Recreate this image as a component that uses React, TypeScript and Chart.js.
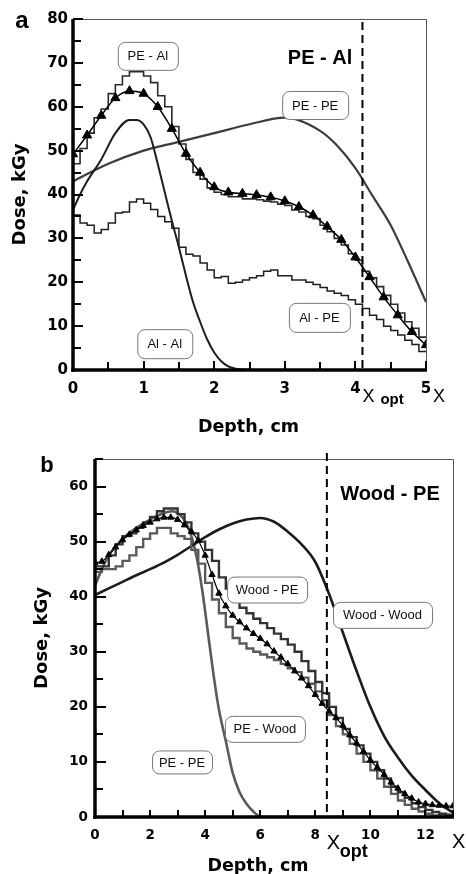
import React, { useEffect, useRef } from 'react';
import { Chart, registerables } from 'chart.js';
Chart.register(...registerables);

// ---------------- Panel a : PE - Al ----------------
const aPePeDepth = [0, 0.5, 1, 1.5, 2, 2.5, 3, 3.5, 3.75, 4, 4.25, 4.5, 4.75, 5];
const aPePeDose = [43, 47, 50, 52, 54, 56, 57.5, 54.5, 51, 46, 39.5, 33, 24.5, 15.5];

const aAlAlDepth = [0, 0.1, 0.2, 0.4, 0.6, 0.8, 0.9, 1.0, 1.1, 1.2, 1.3, 1.4, 1.5, 1.6, 1.7, 1.8, 1.9, 2.0, 2.1, 2.2, 2.3, 2.4, 2.6, 3, 4, 5];
const aAlAlDose = [36.5, 40, 43, 48, 54, 57, 57, 56, 53, 47, 40.5, 34, 28, 21.5, 15.5, 11, 7, 4, 2, 0.8, 0.3, 0.1, 0, 0, 0, 0];

const aCalcDepth = [0, 0.2, 0.4, 0.6, 0.8, 1.0, 1.2, 1.4, 1.6, 1.8, 2.0, 2.2, 2.4, 2.6, 2.8, 3.0, 3.2, 3.4, 3.6, 3.8, 4.0, 4.2, 4.4, 4.6, 4.8, 5.0];
const aCalcDose = [49.2, 53.5, 58, 62, 63.6, 63, 60, 55, 49.3, 45, 41.7, 40.5, 40.2, 39.9, 39.4, 38.5, 37.2, 35.3, 32.7, 29.7, 25.7, 21.2, 16.6, 12.5, 8.7, 5.7];

const aBinWidth = 0.1;
const aHistPeAl = [47, 50.5, 54, 57.5, 59.5, 63, 65, 67, 68, 68, 67, 65.5, 62.5, 60, 55.5, 51.5, 48, 45, 43.5, 41.5,
  40.5, 40, 39.5, 39.5, 39, 39, 38.8, 38.5, 38.3, 37.8, 37.5, 36.5, 36, 35, 34.5, 33, 31.5, 30, 28.5, 26.5,
  25, 22.5, 21, 19, 17, 15, 13, 11, 9.5, 7.5];
const aHistAlPe = [35.3, 33.5, 33, 31.2, 32, 33.5, 35.8, 36, 38.3, 39, 38, 36.6, 35, 33.8, 32.3, 28, 26.4, 26, 24.4, 22.8,
  21, 21.3, 19.8, 20, 20.5, 21, 21.5, 22.5, 22.8, 21.5, 21.5, 20.5, 20.5, 20, 19.5, 18.8, 18, 17.5, 17, 16,
  15, 14, 12.5, 11.5, 10, 9, 8, 6.8, 5.8, 4.2];

// ---------------- Panel b : Wood - PE ----------------
const bWoodWoodDepth = [0, 0.5, 1, 1.5, 2, 2.5, 3, 3.5, 4, 4.5, 5, 5.5, 6, 6.5, 7, 7.5, 8, 8.5, 9, 9.5, 10, 10.5, 11, 11.5, 12, 12.5, 13];
const bWoodWoodDose = [40.3, 41.5, 42.7, 43.9, 45, 46.2, 47.6, 49.2, 50.8, 52.2, 53.3, 54, 54.3, 53.6, 51.8, 49.5, 46.3, 40.5, 33.5, 26.5, 20, 14.7, 10.8, 7.5, 4.9, 2.5, 0.8];

const bPePeDepth = [0, 0.25, 0.5, 1, 1.5, 2, 2.5, 2.8, 3.1, 3.3, 3.5, 3.7, 3.9, 4.1, 4.3, 4.5, 4.75, 5, 5.25, 5.5, 5.75, 6, 6.5, 13];
const bPePeDose = [42, 45, 47.5, 50.5, 52.5, 54, 55.2, 55.5, 54.8, 53.5, 51, 47, 41, 33.5, 26, 19.5, 13.8, 8, 4.5, 2.4, 1, 0.1, 0, 0];

const bCalcDepth = [0, 0.25, 0.5, 0.75, 1, 1.25, 1.5, 1.75, 2, 2.25, 2.5, 2.75, 3, 3.25, 3.5, 3.75, 4, 4.25, 4.5, 4.75,
  5, 5.25, 5.5, 5.75, 6, 6.25, 6.5, 6.75, 7, 7.25, 7.5, 7.75, 8, 8.25, 8.5, 8.75, 9, 9.25, 9.5, 9.75,
  10, 10.25, 10.5, 10.75, 11, 11.25, 11.5, 11.75, 12, 12.25, 12.5, 12.75, 13];
const bCalcDose = [46.2, 46.4, 47.6, 49, 50.3, 51.3, 52.1, 52.9, 53.5, 54.1, 54.4, 54.4, 54, 53, 51.8, 50.2, 47.5, 44, 40.6, 38.3,
  36.6, 35.4, 34.3, 33.3, 32.4, 31.4, 30.1, 29, 27.8, 26.5, 25.2, 23.8, 22.2, 20.6, 19.2, 18, 16.6, 14.9, 13.4, 11.9,
  10.3, 9, 7.7, 6.3, 5.2, 4.2, 3.4, 2.7, 2.4, 2.2, 2.1, 2, 2];

const bBinWidth = 0.25;
const bHistWoodPe = [45.5, 45.5, 47.5, 49.5, 51, 51.5, 52.5, 53.5, 54.5, 55.5, 56, 56, 55, 53.5, 51.5, 50, 48.5, 46.5, 43.5, 41.5,
  39.5, 38, 37, 36, 35.2, 34.3, 33.3, 32.3, 31.3, 30, 28.3, 26.5, 24.5, 22.5, 20, 18, 16, 14.5, 13, 11.5,
  10, 8.5, 7, 5.5, 4.5, 3.5, 2.5, 1.8, 1.3, 0.9, 0.6, 0.4];
const bHistPeWood = [44.5, 45, 45, 45.5, 46.5, 47.5, 49, 50.5, 51.5, 52.5, 52.5, 51.5, 51, 50.5, 48.5, 46, 42.5, 39.5, 37, 34.5,
  32.5, 31.5, 30.6, 30, 29.5, 29, 28.5, 27.8, 27, 26.3, 25.3, 24.2, 22.8, 21.2, 18.5, 16.5, 15, 13.3, 11.5, 10,
  8.5, 7, 5.5, 4.2, 3, 2.2, 1.5, 1, 0.6, 0.3, 0.1, 0];

// ---------------- helpers ----------------
const pts = (xs: number[], ys: number[]) => xs.map((x, i) => ({ x, y: ys[i] }));
const histPts = (vals: number[], w: number) => {
  const p = vals.map((v, i) => ({ x: +(i * w).toFixed(4), y: v }));
  p.push({ x: +(vals.length * w).toFixed(4), y: vals[vals.length - 1] });
  return p;
};

const SANS = "'Liberation Sans', Arial, sans-serif";
const WIDE = "'DejaVu Sans', sans-serif";

function decoPlugin(d: any) {
  return {
    id: 'deco',
    afterDraw(chart: any) {
      const { ctx, chartArea: ca, scales } = chart;
      const xs = scales.x;
      const ys = scales.y;
      ctx.save();
      const line = (x1: number, y1: number, x2: number, y2: number) => {
        ctx.beginPath(); ctx.moveTo(x1, y1); ctx.lineTo(x2, y2); ctx.stroke();
      };
      // thin frame (top, right)
      ctx.strokeStyle = '#555'; ctx.lineWidth = 1;
      ctx.beginPath();
      ctx.moveTo(ca.left, ca.top + 0.5); ctx.lineTo(ca.right + 0.5, ca.top + 0.5); ctx.lineTo(ca.right + 0.5, ca.bottom);
      ctx.stroke();
      // dashed X_opt line
      const dx = xs.getPixelForValue(d.dashX);
      ctx.strokeStyle = '#000'; ctx.lineWidth = 2; ctx.setLineDash([8, 5]);
      line(dx, ca.top - d.dashExtend, dx, ca.bottom);
      ctx.setLineDash([]);
      // inward ticks
      ctx.lineWidth = 2; ctx.strokeStyle = '#000';
      const nY = Math.round((ys.max - ys.min) / d.yMinor);
      for (let i = 0; i <= nY; i++) {
        const v = ys.min + i * d.yMinor;
        if (v > ys.max + 1e-9) break;
        const py = Math.round(ys.getPixelForValue(v));
        const major = Math.abs(v / d.yMajor - Math.round(v / d.yMajor)) < 1e-6;
        line(ca.left, py, ca.left + (major ? d.yTickMajor : d.yTickMinor), py);
      }
      const nX = Math.round((xs.max - xs.min) / d.xMinor);
      for (let i = 0; i <= nX; i++) {
        const v = xs.min + i * d.xMinor;
        const px = Math.round(xs.getPixelForValue(v));
        const major = Math.abs(v / d.xMajor - Math.round(v / d.xMajor)) < 1e-6;
        line(px, ca.bottom, px, ca.bottom - (major ? d.xTickMajor : d.xTickMinor));
      }
      // thick axes
      ctx.lineWidth = 3.5;
      line(ca.left, ca.top, ca.left, ca.bottom + 1.75);
      line(ca.left - 1.75, ca.bottom, ca.right + 1, ca.bottom);
      // label boxes
      ctx.lineWidth = 1; ctx.strokeStyle = '#777';
      ctx.font = `13px ${SANS}`; ctx.textAlign = 'center'; ctx.textBaseline = 'middle';
      for (const b of d.boxes) {
        const cx = xs.getPixelForValue(b.x);
        const cy = ys.getPixelForValue(b.y);
        ctx.beginPath();
        ctx.roundRect(cx - b.w / 2 + 0.5, cy - b.h / 2 + 0.5, b.w, b.h, 7);
        ctx.fillStyle = '#fff'; ctx.fill(); ctx.stroke();
        ctx.fillStyle = '#111';
        ctx.fillText(b.text, cx, cy + 1);
      }
      // panel title
      ctx.fillStyle = '#000';
      ctx.font = `bold ${d.title.size}px ${SANS}`;
      ctx.fillText(d.title.text, xs.getPixelForValue(d.title.x), ys.getPixelForValue(d.title.y));
      // panel letter
      ctx.font = `bold ${d.letter.size}px ${SANS}`;
      ctx.fillText(d.letter.text, ca.left + d.letter.dx, ca.top + d.letter.dy);
      // axis titles
      ctx.font = `bold 17.5px ${WIDE}`;
      ctx.fillText('Depth, cm', (ca.left + ca.right) / 2 + d.xTitle.dx, ca.bottom + d.xTitle.dy);
      ctx.save();
      ctx.translate(ca.left + d.yTitle.dx, (ca.top + ca.bottom) / 2);
      ctx.rotate(-Math.PI / 2);
      ctx.font = `bold 18px ${WIDE}`;
      ctx.fillText('Dose, kGy', 0, 0);
      ctx.restore();
      // X opt and X labels
      ctx.textAlign = 'left';
      ctx.font = `${d.xopt.xSize}px ${SANS}`;
      ctx.fillText('X', dx + d.xopt.xDx, ca.bottom + d.xopt.xDy);
      ctx.fillText('X', ca.right + d.xopt.farDx, ca.bottom + d.xopt.farDy);
      ctx.font = `bold ${d.xopt.optSize}px ${SANS}`;
      ctx.fillText('opt', dx + d.xopt.optDx, ca.bottom + d.xopt.optDy);
      ctx.restore();
    },
  };
}

const tickFont = (size: number) => ({ family: 'DejaVu Sans', weight: 'bold' as const, size });

function baseOptions(p: any) {
  return {
    responsive: false,
    animation: false as const,
    devicePixelRatio: 1,
    events: [] as any[],
    layout: { padding: p.padding },
    plugins: { legend: { display: false }, tooltip: { enabled: false } },
    scales: {
      x: {
        type: 'linear' as const, min: p.xMin, max: p.xMax,
        grid: { display: false, drawTicks: false }, border: { display: false },
        ticks: { stepSize: p.xStep, color: '#000', font: tickFont(p.tickSize), padding: p.xPad, maxRotation: 0, autoSkip: false, includeBounds: false },
        afterFit: (s: any) => { s.height = p.xHeight; },
      },
      y: {
        type: 'linear' as const, min: p.yMin, max: p.yMax,
        grid: { display: false, drawTicks: false }, border: { display: false },
        ticks: { stepSize: p.yStep, color: '#000', font: tickFont(p.tickSize), padding: p.yPad, includeBounds: false },
        afterFit: (s: any) => { s.width = p.yWidth; },
      },
    },
  };
}

const smooth = (data: any, color: string, width: number) => ({
  data, borderColor: color, borderWidth: width, pointRadius: 0, fill: false,
  cubicInterpolationMode: 'monotone' as const, tension: 0.4,
});
const steps = (data: any, color: string, width: number) => ({
  data, borderColor: color, borderWidth: width, pointRadius: 0, fill: false, stepped: true,
});
const markers = (data: any, r: number, width: number) => ({
  data, borderColor: '#000', borderWidth: width, pointRadius: r, pointStyle: 'triangle',
  pointBackgroundColor: '#000', pointBorderColor: '#000', pointBorderWidth: 1, fill: false,
  cubicInterpolationMode: 'monotone' as const, tension: 0.4,
});

function buildA(): any {
  return {
    type: 'line',
    data: {
      datasets: [
        markers(pts(aCalcDepth, aCalcDose), 5.3, 1.5),
        steps(histPts(aHistPeAl, aBinWidth), '#2a2a2a', 1.6),
        steps(histPts(aHistAlPe, aBinWidth), '#1e1e1e', 1.5),
        smooth(pts(aAlAlDepth, aAlAlDose), '#1e1e1e', 2),
        smooth(pts(aPePeDepth, aPePeDose), '#3c3c3c', 2.2),
      ],
    },
    options: baseOptions({
      padding: { left: 0, right: 40, top: 19, bottom: 0 },
      xMin: 0, xMax: 5, xStep: 1, yMin: 0, yMax: 80, yStep: 10,
      tickSize: 15, xPad: 10, yPad: 5, xHeight: 70, yWidth: 73,
    }),
    plugins: [decoPlugin({
      xMinor: 0.5, xMajor: 1, yMinor: 5, yMajor: 10,
      yTickMajor: 10, yTickMinor: 8, xTickMajor: 9, xTickMinor: 8,
      dashX: 4.1, dashExtend: -3,
      boxes: [
        { text: 'PE - Al', x: 1.06, y: 71.6, w: 60, h: 28 },
        { text: 'PE - PE', x: 3.43, y: 60.4, w: 66, h: 28 },
        { text: 'Al - Al', x: 1.30, y: 6.0, w: 55, h: 29 },
        { text: 'Al - PE', x: 3.49, y: 12.0, w: 61, h: 29 },
      ],
      title: { text: 'PE - Al', x: 3.5, y: 71.1, size: 20 },
      letter: { text: 'a', dx: -51, dy: 2, size: 24 },
      yTitle: { dx: -53 },
      xTitle: { dx: -1, dy: 57 },
      xopt: { xDx: 0, xDy: 27, optDx: 18, optDy: 30, farDx: 7, farDy: 27, xSize: 18, optSize: 15 },
    })],
  };
}

function buildB(): any {
  return {
    type: 'line',
    data: {
      datasets: [
        markers(pts(bCalcDepth, bCalcDose), 3.6, 1.2),
        steps(histPts(bHistWoodPe, bBinWidth), '#333333', 2.4),
        steps(histPts(bHistPeWood, bBinWidth), '#5a5a5a', 2.4),
        smooth(pts(bWoodWoodDepth, bWoodWoodDose), '#1c1c1c', 2.6),
        smooth(pts(bPePeDepth, bPePeDose), '#5a5a5a', 2.6),
      ],
    },
    options: baseOptions({
      padding: { left: 0, right: 13, top: 19, bottom: 0 },
      xMin: 0, xMax: 13, xStep: 2, yMin: 0, yMax: 65, yStep: 10,
      tickSize: 13.5, xPad: 10, yPad: 7, xHeight: 57, yWidth: 95,
    }),
    plugins: [decoPlugin({
      xMinor: 1, xMajor: 2, yMinor: 5, yMajor: 10,
      yTickMajor: 11, yTickMinor: 8, xTickMajor: 7, xTickMinor: 7,
      dashX: 8.42, dashExtend: 6,
      boxes: [
        { text: 'Wood - PE', x: 6.25, y: 41.3, w: 80, h: 26 },
        { text: 'Wood - Wood', x: 10.44, y: 36.7, w: 99, h: 26 },
        { text: 'PE - Wood', x: 6.17, y: 16.0, w: 80, h: 26 },
        { text: 'PE - PE', x: 3.16, y: 10.0, w: 60, h: 23 },
      ],
      title: { text: 'Wood - PE', x: 10.71, y: 58.5, size: 20 },
      letter: { text: 'b', dx: -48, dy: 7, size: 22 },
      yTitle: { dx: -53 },
      xTitle: { dx: -16, dy: 49 },
      xopt: { xDx: 0, xDy: 26, optDx: 13, optDy: 35, farDx: -1, farDy: 25, xSize: 20, optSize: 18 },
    })],
  };
}

export default function App() {
  const refA = useRef<HTMLCanvasElement>(null);
  const refB = useRef<HTMLCanvasElement>(null);
  useEffect(() => {
    const cA = new Chart(refA.current as HTMLCanvasElement, buildA());
    const cB = new Chart(refB.current as HTMLCanvasElement, buildB());
    return () => { cA.destroy(); cB.destroy(); };
  }, []);
  return (
    <div style={{ position: 'absolute', left: 0, top: 0, width: 466, height: 874, background: '#fff', overflow: 'hidden' }}>
      <canvas ref={refA} width={466} height={440} style={{ position: 'absolute', left: 0, top: 0, width: 466, height: 440 }} />
      <canvas ref={refB} width={466} height={434} style={{ position: 'absolute', left: 0, top: 440, width: 466, height: 434 }} />
    </div>
  );
}
